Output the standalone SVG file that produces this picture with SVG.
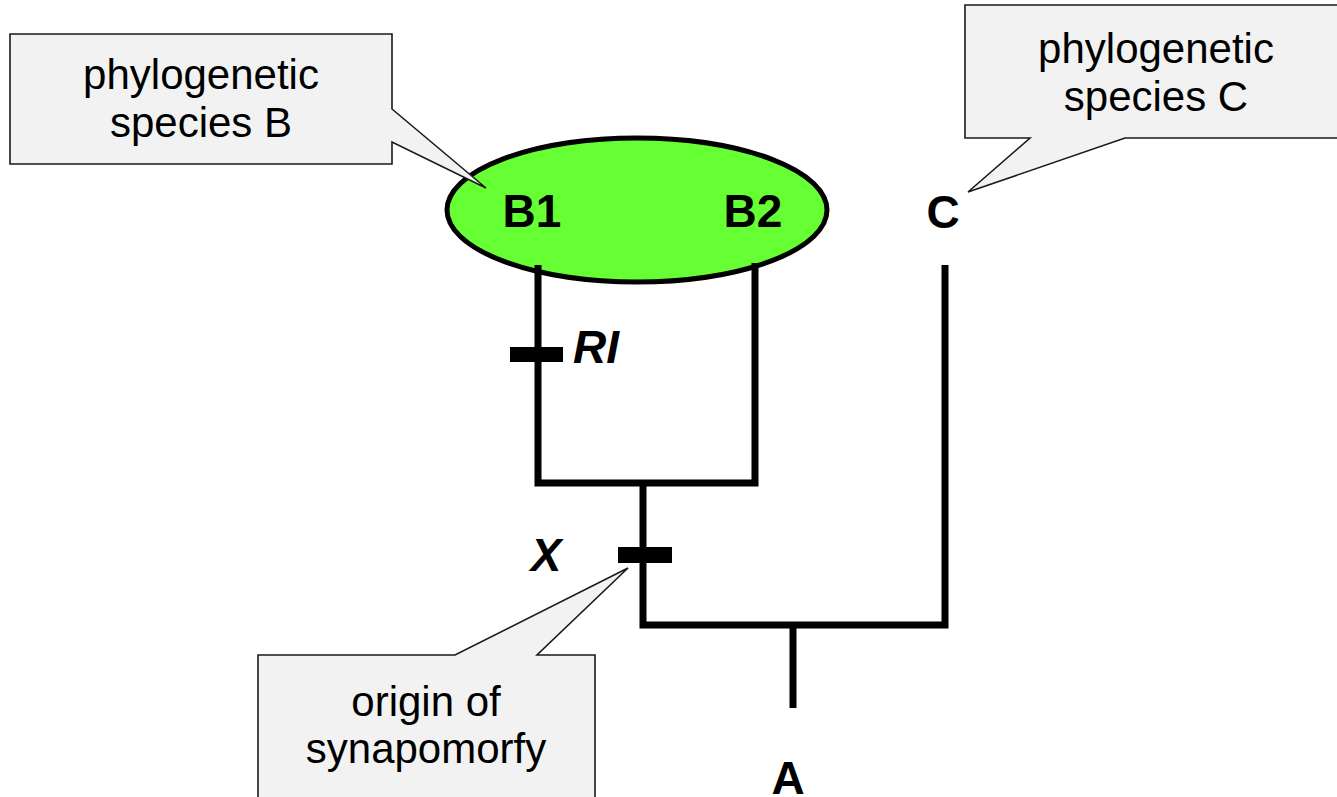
<svg xmlns="http://www.w3.org/2000/svg" width="1337" height="797" viewBox="0 0 1337 797">
<style>
.call{fill:#f2f2f2;stroke:#1a1a1a;stroke-width:1.6;stroke-linejoin:miter}
.ct{font-family:"Liberation Sans",Arial,sans-serif;font-size:42px;fill:#000;text-anchor:middle}
.lb{font-family:"Liberation Sans",Arial,sans-serif;font-size:46px;font-weight:bold;fill:#000;text-anchor:middle}
.it{font-style:italic}
.br{fill:none;stroke:#000;stroke-width:7;stroke-linejoin:miter;stroke-linecap:butt}
</style>
<rect width="1337" height="797" fill="#fff"/>
<g id="speciesB">
<ellipse cx="637" cy="210" rx="190" ry="72" fill="#66ff33" stroke="#000" stroke-width="5"/>
<text class="lb" x="532" y="227">B1</text>
<text class="lb" x="753" y="227">B2</text>
</g>
<g id="connectors">
<polyline class="br" points="538,265 538,483 755,483 755,263"/>
<polyline class="br" points="643,483 643,625 945,625 945,265"/>
<line class="br" x1="793" y1="625" x2="793" y2="708"/>
<rect x="510" y="347" width="53" height="15" fill="#000"/>
<rect x="618" y="547" width="54" height="16" fill="#000"/>
</g>
<g id="labelC"><text class="lb" x="943" y="228">C</text></g>
<g id="labelA"><text class="lb" x="788" y="794">A</text></g>
<g id="labelRI"><text class="lb it" x="573" y="363" style="text-anchor:start">RI</text></g>
<g id="labelX"><text class="lb it" x="546" y="571">X</text></g>
<g id="calloutB">
<path class="call" d="M10,34 H392 V109 L486,188 L392,142 V164 H10 Z"/>
<text class="ct" x="201" y="89">phylogenetic</text>
<text class="ct" x="201" y="137">species B</text>
</g>
<g id="calloutC">
<path class="call" d="M965,5 H1345 V138 H1125 L968,192 L1030,138 H965 Z"/>
<text class="ct" x="1156" y="63">phylogenetic</text>
<text class="ct" x="1156" y="111">species C</text>
</g>
<g id="calloutOrigin">
<path class="call" d="M258,655 H455 L628,568 L537,655 H595 V805 H258 Z"/>
<text class="ct" x="426" y="716">origin of</text>
<text class="ct" x="426" y="763">synapomorfy</text>
</g>
</svg>
